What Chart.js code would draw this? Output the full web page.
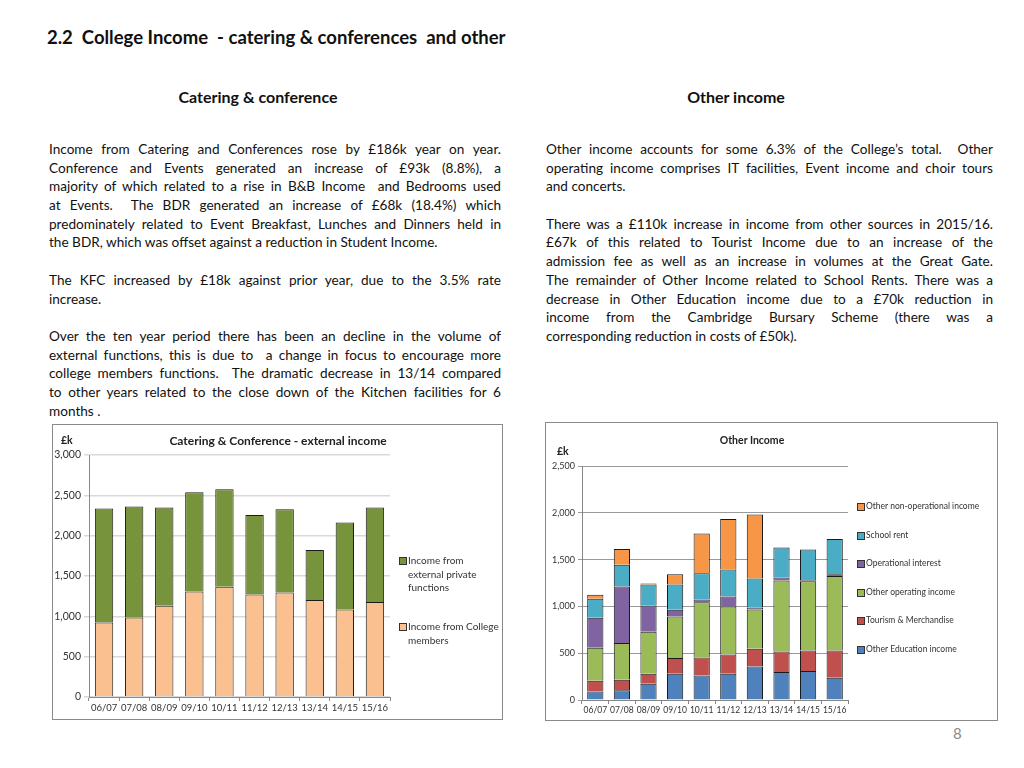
<!DOCTYPE html>
<html>
<head>
<meta charset="utf-8">
<script src="https://cdn.jsdelivr.net/npm/chart.js@4.4.1/dist/chart.umd.min.js"></script>
<style>
  body { margin: 0; background: #fff; font-family: Lato, "Open Sans", sans-serif; color: #111; }
  #page { position: relative; width: 1024px; height: 768px; overflow: hidden; }
  .abs { position: absolute; }
  .title { left: 47px; top: 26px; font-size: 18.5px; font-weight: bold; white-space: pre; }
  .head { top: 87px; font-size: 16px; font-weight: bold; text-align: center; }
  .col { top: 140px; font-size: 13.6px; line-height: 18.7px; }
  .col div { text-align: justify; text-align-last: justify; height: 18.7px; white-space: pre-wrap; }
  .col div.end { text-align-last: left; }
  .box { border: 1px solid #8a8a8a; box-sizing: border-box; }
  .lg { font-size: 10px; color: #333; line-height: 13.5px; }
  .lg i { position: absolute; left: 0; top: 3px; width: 6px; height: 6px; border: 1px solid #333; }
  .lg span { display: block; padding-left: 9px; }
  .ctitle { font-weight: bold; color: #222; }
</style>
</head>
<body>
<div id="page">
  <div class="abs title">2.2  College Income  - catering &amp; conferences  and other</div>
  <div class="abs head" style="left:158px;width:200px;">Catering &amp; conference</div>
  <div class="abs head" style="left:636px;width:200px;">Other income</div>

  <div class="abs col" style="left:49px;width:452px;">
    <div>Income from Catering and Conferences rose by £186k year on year.</div>
    <div>Conference and Events generated an increase of £93k (8.8%), a</div>
    <div>majority of which related to a rise in B&amp;B Income  and Bedrooms used</div>
    <div>at Events.  The BDR generated an increase of £68k (18.4%) which</div>
    <div>predominately related to Event Breakfast, Lunches and Dinners held in</div>
    <div class="end">the BDR, which was offset against a reduction in Student Income.</div>
    <div class="end"></div>
    <div>The KFC increased by £18k against prior year, due to the 3.5% rate</div>
    <div class="end">increase.</div>
    <div class="end"></div>
    <div>Over the ten year period there has been an decline in the volume of</div>
    <div>external functions, this is due to  a change in focus to encourage more</div>
    <div>college members functions.  The dramatic decrease in 13/14 compared</div>
    <div>to other years related to the close down of the Kitchen facilities for 6</div>
    <div class="end">months .</div>
  </div>

  <div class="abs col" style="left:546px;width:447px;">
    <div>Other income accounts for some 6.3% of the College’s total.  Other</div>
    <div>operating income comprises IT facilities, Event income and choir tours</div>
    <div class="end">and concerts.</div>
    <div class="end"></div>
    <div>There was a £110k increase in income from other sources in 2015/16.</div>
    <div>£67k of this related to Tourist Income due to an increase of the</div>
    <div>admission fee as well as an increase in volumes at the Great Gate.</div>
    <div>The remainder of Other Income related to School Rents. There was a</div>
    <div>decrease in Other Education income due to a £70k reduction in</div>
    <div>income from the Cambridge Bursary Scheme (there was a</div>
    <div class="end">corresponding reduction in costs of £50k).</div>
  </div>

  <div class="abs box" style="left:52px;top:424px;width:451px;height:296px;">
    <canvas id="c1" width="449" height="294"></canvas>
  </div>
  <div class="abs ctitle" style="left:118px;top:433px;width:320px;text-align:center;font-size:12px;">Catering &amp; Conference - external income</div>
  <div class="abs ctitle" style="left:61px;top:434px;font-size:10.5px;">£k</div>
  <div id="lg1"></div>

  <div class="abs box" style="left:545px;top:422px;width:453px;height:299px;">
    <canvas id="c2" width="451" height="297"></canvas>
  </div>
  <div class="abs ctitle" style="left:692px;top:434px;width:120px;text-align:center;font-size:10.5px;">Other Income</div>
  <div class="abs ctitle" style="left:557px;top:445px;font-size:10.5px;">£k</div>
  <div id="lg2"></div>

  <div class="abs" style="left:953px;top:724px;font-size:15px;color:#8a8a8a;">8</div>
</div>

<script>
// years on the x axis (both charts)
const years = ['06/07', '07/08', '08/09', '09/10', '10/11', '11/12', '12/13', '13/14', '14/15', '15/16'];

// Catering & Conference - external income, £k
const collegeMembers    = [923, 985, 1130, 1308, 1366, 1270, 1295, 1204, 1084, 1179];
const externalFunctions = [1415, 1378, 1220, 1229, 1208, 985, 1031, 617, 1080, 1171];

// Other Income, £k (stacked bottom to top)
const otherEducation      = [92, 103, 174, 281, 263, 281, 359, 299, 309, 238];
const tourismMerch        = [114, 114, 107, 167, 192, 206, 189, 220, 221, 292];
const otherOperating      = [352, 391, 448, 445, 590, 512, 419, 758, 740, 796];
const operationalInterest = [320, 605, 281, 72, 29, 107, 22, 32, 10, 18];
const schoolRent          = [203, 231, 224, 269, 281, 288, 309, 320, 327, 377];
const otherNonOperational = [43, 170, 11, 110, 423, 540, 683, 0, 0, 0];

const FONT = 'Lato, "Open Sans", sans-serif';

function buildLegend(el, items, left, top, gap, width, fontSize){
  el.innerHTML = '';
  items.forEach((it, i) => {
    const d = document.createElement('div');
    d.className = 'abs lg';
    d.style.left = left + 'px';
    d.style.top = (top + (Array.isArray(gap) ? gap[i] : i * gap)) + 'px';
    d.style.width = width + 'px';
    if (fontSize) { d.style.fontSize = fontSize + 'px'; }
    d.innerHTML = '<i style="background:' + it.color + '"></i><span>' + it.label + '</span>';
    el.appendChild(d);
  });
}

function fixedAxis(size, horizontal){
  return function(scale){ if (horizontal) scale.height = size; else scale.width = size; };
}

// chart 1
const set1 = [
  { label: 'Income from College members', data: collegeMembers, backgroundColor: '#FAC090' },
  { label: 'Income from external private functions', data: externalFunctions, backgroundColor: '#77933C' }
];

new Chart(document.getElementById('c1'), {
  type: 'bar',
  data: {
    labels: years,
    datasets: set1.map(s => ({ ...s, borderColor: '#1a1a1a', borderWidth: 1, borderSkipped: 'bottom',
      barPercentage: 0.61, categoryPercentage: 1 }))
  },
  options: {
    responsive: false,
    animation: false,
    devicePixelRatio: 1,
    layout: { padding: { top: 30, right: 112, left: 0, bottom: 0 } },
    plugins: { legend: { display: false }, tooltip: { enabled: false } },
    scales: {
      x: {
        stacked: true,
        afterFit: fixedAxis(22, true),
        grid: { drawOnChartArea: false, color: '#8a8a8a', tickLength: 4 },
        border: { color: '#8a8a8a' },
        ticks: { color: '#333', font: { family: FONT, size: 9.5 }, padding: 1, maxRotation: 0, autoSkip: false }
      },
      y: {
        stacked: true,
        min: 0, max: 3000,
        afterFit: fixedAxis(36, false),
        grid: { color: '#d9d9d9', lineWidth: 1.5, tickLength: 5 },
        border: { color: '#8a8a8a' },
        ticks: { stepSize: 500, color: '#333', font: { family: FONT, size: 10.5 }, padding: 3 }
      }
    }
  }
});

buildLegend(document.getElementById('lg1'),
  set1.slice().reverse().map(s => ({ label: s.label, color: s.backgroundColor })),
  399, 554, [0, 66], 100);

// chart 2
const set2 = [
  { label: 'Other Education income', data: otherEducation, backgroundColor: '#4F81BD' },
  { label: 'Tourism &amp; Merchandise', data: tourismMerch, backgroundColor: '#C0504D' },
  { label: 'Other operating income', data: otherOperating, backgroundColor: '#9BBB59' },
  { label: 'Operational interest', data: operationalInterest, backgroundColor: '#8064A2' },
  { label: 'School rent', data: schoolRent, backgroundColor: '#4BACC6' },
  { label: 'Other non-operational income', data: otherNonOperational, backgroundColor: '#F79646' }
];

new Chart(document.getElementById('c2'), {
  type: 'bar',
  data: {
    labels: years,
    datasets: set2.map(s => ({ ...s, label: s.label.replace('&amp;', '&'), borderColor: '#1a1a1a', borderWidth: 1,
      borderSkipped: 'bottom', barPercentage: 0.61, categoryPercentage: 1 }))
  },
  options: {
    responsive: false,
    animation: false,
    devicePixelRatio: 1,
    layout: { padding: { top: 43, right: 149, left: 0, bottom: 0 } },
    plugins: { legend: { display: false }, tooltip: { enabled: false } },
    scales: {
      x: {
        stacked: true,
        afterFit: fixedAxis(20, true),
        grid: { drawOnChartArea: false, color: '#868686', tickLength: 4 },
        border: { color: '#868686' },
        ticks: { color: '#333', font: { family: FONT, size: 8.5 }, padding: 1, maxRotation: 0, autoSkip: false }
      },
      y: {
        stacked: true,
        min: 0, max: 2500,
        afterFit: fixedAxis(36, false),
        grid: { color: '#9a9a9a', lineWidth: 1, tickLength: 4 },
        border: { color: '#868686' },
        ticks: { stepSize: 500, color: '#333', font: { family: FONT, size: 9 }, padding: 3 }
      }
    }
  }
});

buildLegend(document.getElementById('lg2'),
  set2.slice().reverse().map(s => ({ label: s.label, color: s.backgroundColor })),
  857, 500, 28.6, 140, 8.5);
</script>
</body>
</html>
